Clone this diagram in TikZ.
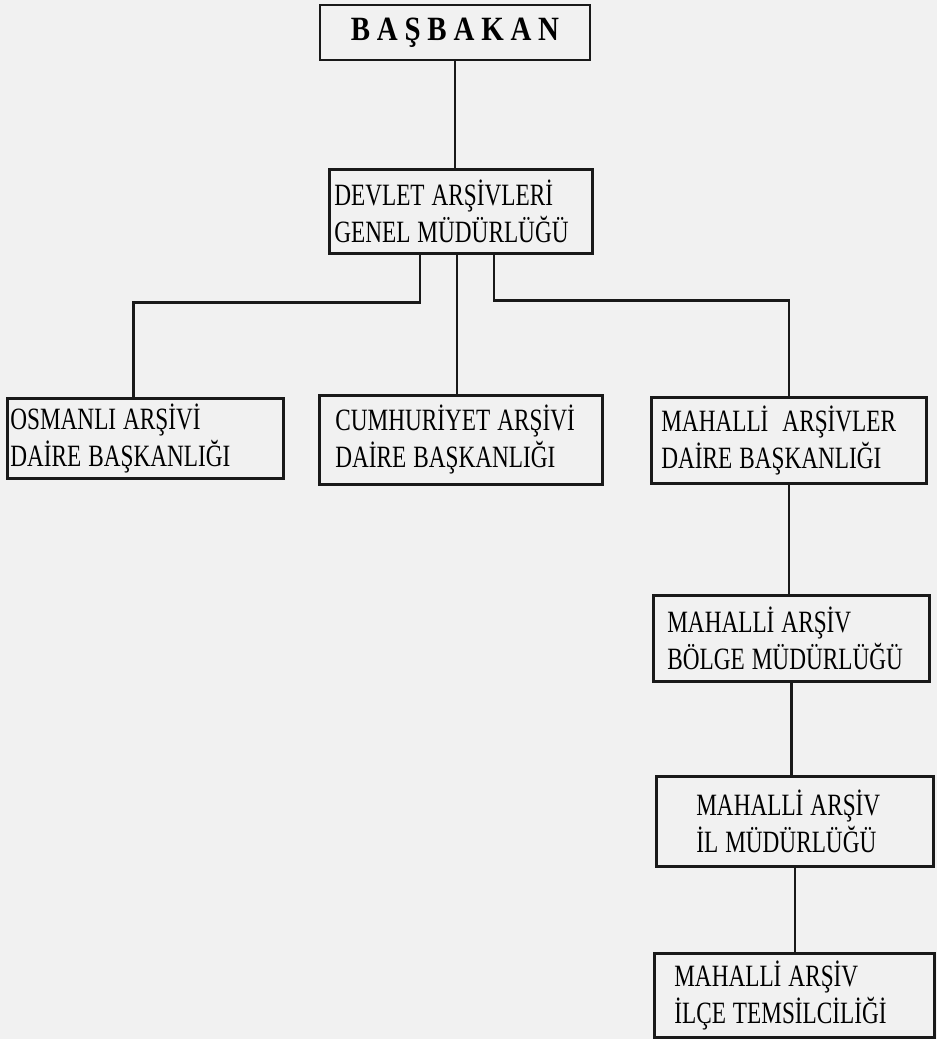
\documentclass[tikz,border=0pt]{standalone}
\usepackage{fontspec}
\setmainfont{Liberation Serif}[FakeStretch=0.75]
\newfontfamily\headfont{Liberation Serif}[FakeStretch=0.85,LetterSpace=20]
\usepackage{tikz}
\usetikzlibrary{positioning,calc}
\definecolor{paper}{RGB}{241,241,241}
\definecolor{inkcol}{RGB}{25,25,25}
\newcommand\unitfont{\fontsize{31}{37}\selectfont\spaceskip=7pt plus 1pt\relax}

\begin{document}
\begin{tikzpicture}[x=1pt,y=-1pt,
  head/.style={rectangle, draw=inkcol, line width=2.8pt, font=\headfont\bfseries\fontsize{34}{40}\selectfont,
               minimum width=270pt, minimum height=55pt, inner sep=0pt},
  unit/.style={rectangle, draw=inkcol, line width=2.6pt, font=\unitfont,
               align=flush left, anchor=north west, inner ysep=0pt, inner xsep=#1},
  ln/.style={line width=2.4pt, inkcol}
]

\fill[paper] (0,0) rectangle (937,1039);
\useasboundingbox (0,0) rectangle (937,1039);

\node[head] (bas) at (455,32.5) {BAŞBAKAN};

\node[unit=5pt,  text width=253pt, minimum height=84pt] (dev) at (328,168)
    {DEVLET ARŞİVLERİ\\GENEL MÜDÜRLÜĞÜ};

\node[unit=3pt,  text width=270pt, minimum height=80pt] (osm) at (6,397)
    {OSMANLI ARŞİVİ\\DAİRE BAŞKANLIĞI};
\node[unit=16pt, text width=251pt, minimum height=89pt] (cum) at (318,394)
    {CUMHURİYET ARŞİVİ\\DAİRE BAŞKANLIĞI};
\node[unit=10pt, text width=255pt, minimum height=86pt] (mah) at (650,396)
    {MAHALLİ\ \ ARŞİVLER\\DAİRE BAŞKANLIĞI};

\node[unit=14pt, text width=248pt, minimum height=86pt] (bol) at (652,594)
    {MAHALLİ ARŞİV\\BÖLGE MÜDÜRLÜĞÜ};
\node[unit=40pt, text width=197pt, minimum height=90pt] (il) at (655,775)
    {MAHALLİ ARŞİV\\İL MÜDÜRLÜĞÜ};
\node[unit=20pt, text width=240pt, minimum height=84pt] (ilce) at (653,952)
    {MAHALLİ ARŞİV\\İLÇE TEMSİLCİLİĞİ};

% connectors
\draw[ln] (bas.south) -- (bas.south |- dev.north);
\draw[ln] ([xshift=-41pt]dev.south) -- ++(0,48) -| ([xshift=-12pt]osm.north);
\draw[ln] ([xshift=-4pt]dev.south) -- ([xshift=-4pt]dev.south |- cum.north);
\draw[ln] ([xshift=33pt]dev.south) -- ++(0,46) -| (mah.north);

\foreach \a/\b in {mah/bol,bol/il,il/ilce}
  \draw[ln] (\a.south) -- (\a.south |- \b.north);

\end{tikzpicture}
\end{document}
